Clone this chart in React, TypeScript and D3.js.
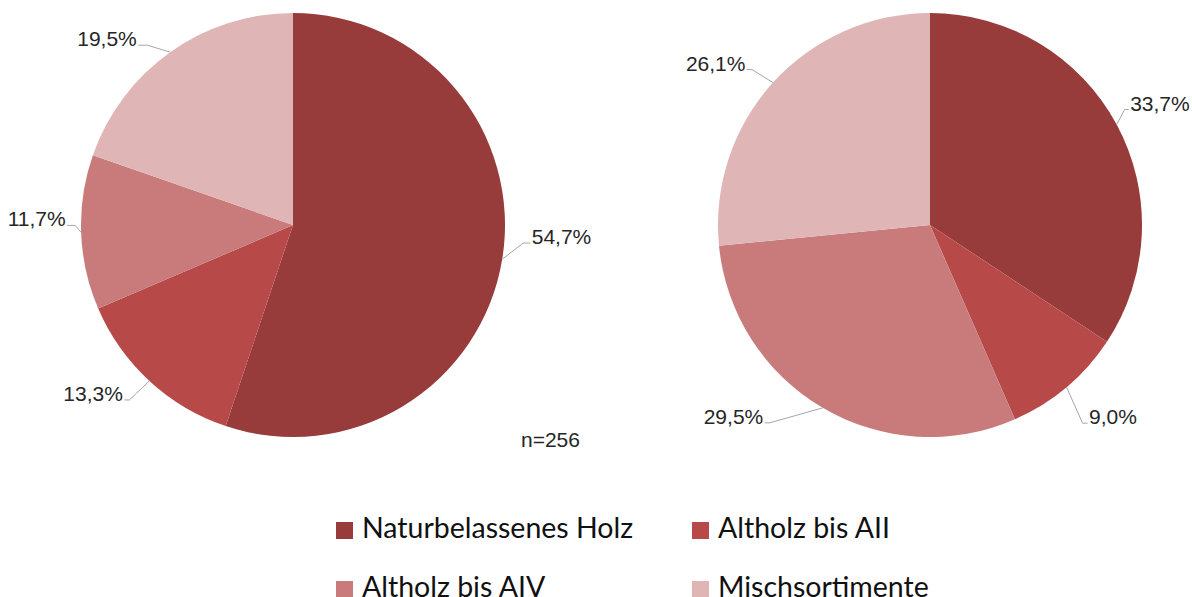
import React from "react";
import * as d3 from "d3";

const categories = ["Naturbelassenes Holz", "Altholz bis AII", "Altholz bis AIV", "Mischsortimente"];
const leftValues = [54.7, 13.3, 11.7, 19.5];
const rightValues = [33.7, 9.0, 29.5, 26.1];
const sampleNote = "n=256";

const colors = ["#983b3b", "#b74a49", "#c87b7a", "#dfb5b5"];

// label leader layout: [elbow dx, elbow dy, horizontal length] relative to slice edge midpoint
const leftLabelLayout = [
  [21, -16, 7],
  [-20, 19, -5],
  [-6, -7, -8],
  [-23, -7, -9],
];
const rightLabelLayout = [
  [8, -15, 4],
  [16, 36, 5],
  [-53, 15, -5],
  [-21, -13, -5],
];

const W = 1192;
const H = 597;
const R = 212;

const fmt = (v: number) => v.toFixed(1).replace(".", ",") + "%";

function Pie({ cx, cy, values, layout }: { cx: number; cy: number; values: number[]; layout: number[][] }) {
  const pie = d3.pie<number>().sort(null).value((d) => d).startAngle(0).endAngle(2 * Math.PI);
  const arcs = pie(values);
  const arc = d3.arc<d3.PieArcDatum<number>>().innerRadius(0).outerRadius(R);
  return (
    <g transform={`translate(${cx},${cy})`}>
      {arcs.map((a, i) => (
        <path key={i} d={arc(a) || ""} fill={colors[i]} />
      ))}
      {arcs.map((a, i) => {
        const mid = (a.startAngle + a.endAngle) / 2;
        const ex = R * Math.sin(mid);
        const ey = -R * Math.cos(mid);
        const [dx, dy, hl] = layout[i];
        const bx = ex + dx;
        const by = ey + dy;
        const hx = bx + hl;
        const right = hl > 0;
        return (
          <g key={"l" + i}>
            <polyline
              points={`${ex},${ey} ${bx},${by} ${hx},${by}`}
              fill="none"
              stroke="#a6a6a6"
              strokeWidth={1}
            />
            <text
              x={hx + (right ? 1.5 : -1.5)}
              y={by + 1}
              textAnchor={right ? "start" : "end"}
              fontFamily="'Liberation Sans', Arial, sans-serif"
              fontSize={21}
              fill="#262626"
            >
              {fmt(values[i])}
            </text>
          </g>
        );
      })}
    </g>
  );
}

export default function App() {
  const legendPos = [
    [336, 522],
    [692, 522],
    [336, 581],
    [692, 581],
  ];
  return (
    <svg width={W} height={H} style={{ position: "absolute", left: 0, top: 0, background: "#fff" }}>
      <rect width={W} height={H} fill="#fff" />
      <Pie cx={293} cy={225} values={leftValues} layout={leftLabelLayout} />
      <Pie cx={930} cy={225} values={rightValues} layout={rightLabelLayout} />
      <text x={521} y={447} fontFamily="'Liberation Sans', Arial, sans-serif" fontSize={21} fill="#262626">
        {sampleNote}
      </text>
      {categories.map((c, i) => (
        <g key={c}>
          <rect x={legendPos[i][0]} y={legendPos[i][1]} width={17} height={17} fill={colors[i]} />
          <text
            x={legendPos[i][0] + 26}
            y={legendPos[i][1] + 16}
            fontFamily="Lato, 'Open Sans', sans-serif"
            fontSize={28.5}
            fill="#111"
          >
            {c}
          </text>
        </g>
      ))}
    </svg>
  );
}
